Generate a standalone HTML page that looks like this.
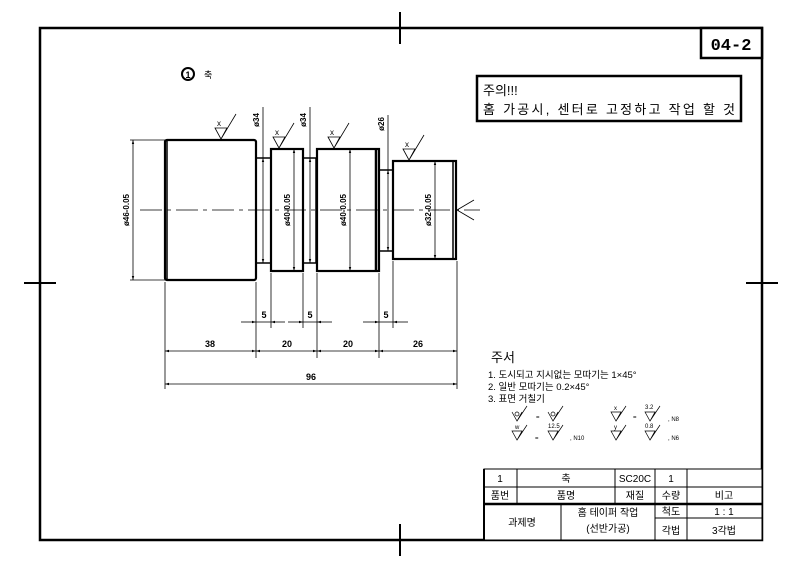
<!DOCTYPE html>
<html><head><meta charset="utf-8"><style>
body{margin:0;background:#fff}
svg text{font-family:"Liberation Sans","Noto Sans CJK KR",sans-serif;fill:#000}
</style></head><body>
<svg width="800" height="564" viewBox="0 0 800 564" xmlns="http://www.w3.org/2000/svg">
<defs>
<marker id="a" viewBox="0 0 10 10" refX="10" refY="5" markerWidth="7" markerHeight="5" orient="auto-start-reverse"><path d="M0,2 L10,5 L0,8z" fill="#000"/></marker>
</defs>
<rect x="0" y="0" width="800" height="564" fill="#fff"/>
<rect x="40" y="28" width="722" height="512" fill="none" stroke="#000" stroke-width="2.5"/>
<g stroke="#000" stroke-width="2">
<line x1="400" y1="12" x2="400" y2="44"/><line x1="400" y1="524" x2="400" y2="556"/>
<line x1="24" y1="283" x2="56" y2="283"/><line x1="746" y1="283" x2="778" y2="283"/>
</g>
<rect x="701" y="28" width="61" height="30" fill="#fff" stroke="#000" stroke-width="2.5"/>
<text x="731" y="50" font-size="17" font-weight="bold" text-anchor="middle" style="font-family:'Liberation Mono',monospace">04-2</text>
<rect x="477" y="76" width="264" height="45" fill="#fff" stroke="#000" stroke-width="2.5"/>
<text x="483" y="95" font-size="13">주의!!!</text>
<text x="483" y="114" font-size="13" textLength="252" lengthAdjust="spacing">홈 가공시, 센터로 고정하고 작업 할 것</text>
<circle cx="188" cy="74" r="6" fill="none" stroke="#000" stroke-width="2"/>
<text x="188" y="78" font-size="9" font-weight="bold" text-anchor="middle">1</text>
<text x="204" y="78" font-size="9">축</text>
<g fill="#fff" stroke="#000" stroke-width="2.2">
<rect x="256" y="158" width="15" height="105" stroke-width="1.5"/>
<rect x="303" y="158" width="13" height="105" stroke-width="1.5"/>
<rect x="379" y="170" width="14" height="81" stroke-width="1.5"/>
<rect x="165" y="140" width="91" height="140" rx="2"/>
<rect x="271" y="149" width="32" height="122"/>
<rect x="317" y="149" width="62" height="122"/>
<rect x="393" y="161" width="63" height="98"/>
</g>
<g stroke="#000" stroke-width="1.5">
<line x1="167" y1="141" x2="167" y2="279"/>
<line x1="376" y1="150" x2="376" y2="270" stroke-width="2.5"/>
<line x1="453" y1="162" x2="453" y2="258"/>
</g>
<line x1="140" y1="210" x2="480" y2="210" stroke="#000" stroke-width="0.8" stroke-dasharray="22,5,4,5"/>
<path d="M457 210 L474 200 M457 210 L474 220" stroke="#000" stroke-width="0.8" fill="none"/>
<g stroke="#000" stroke-width="0.8">
<line x1="133" y1="140" x2="133" y2="280" marker-start="url(#a)" marker-end="url(#a)"/>
<line x1="130" y1="140" x2="165" y2="140"/><line x1="130" y1="280" x2="165" y2="280"/>
<line x1="263" y1="158" x2="263" y2="263" marker-start="url(#a)" marker-end="url(#a)"/>
<line x1="263" y1="107" x2="263" y2="158"/>
<line x1="294" y1="149" x2="294" y2="271" marker-start="url(#a)" marker-end="url(#a)"/>
<line x1="310" y1="158" x2="310" y2="263" marker-start="url(#a)" marker-end="url(#a)"/>
<line x1="310" y1="107" x2="310" y2="158"/>
<line x1="350" y1="149" x2="350" y2="271" marker-start="url(#a)" marker-end="url(#a)"/>
<line x1="388" y1="170" x2="388" y2="251" marker-start="url(#a)" marker-end="url(#a)"/>
<line x1="388" y1="115" x2="388" y2="170"/>
<line x1="435" y1="161" x2="435" y2="259" marker-start="url(#a)" marker-end="url(#a)"/>
</g>
<g font-size="8" font-weight="bold">
<text transform="translate(129,210) rotate(-90)" text-anchor="middle">ø46-0.05</text>
<text transform="translate(290,210) rotate(-90)" text-anchor="middle">ø40-0.05</text>
<text transform="translate(346,210) rotate(-90)" text-anchor="middle">ø40-0.05</text>
<text transform="translate(431,210) rotate(-90)" text-anchor="middle">ø32-0.05</text>
<text transform="translate(259,120) rotate(-90)" text-anchor="middle">ø34</text>
<text transform="translate(306,120) rotate(-90)" text-anchor="middle">ø34</text>
<text transform="translate(384,124) rotate(-90)" text-anchor="middle">ø26</text>
</g>
<g stroke="#000" stroke-width="0.8" fill="none">
<path d="M215 128 L221 139 L227 128 Z M221 139 L236 114"/>
<path d="M273 137 L279 148 L285 137 Z M279 148 L294 123"/>
<path d="M328 137 L334 148 L340 137 Z M334 148 L349 123"/>
<path d="M403 149 L409 160 L415 149 Z M409 160 L424 135"/>
</g>
<g font-size="8"><text x="217" y="126">x</text><text x="275" y="135">x</text><text x="330" y="135">x</text><text x="405" y="147">x</text></g>
<g stroke="#000" stroke-width="0.8">
<line x1="165" y1="282" x2="165" y2="389"/>
<line x1="256" y1="282" x2="256" y2="358"/>
<line x1="271" y1="273" x2="271" y2="328"/>
<line x1="303" y1="273" x2="303" y2="328"/>
<line x1="317" y1="273" x2="317" y2="358"/>
<line x1="379" y1="273" x2="379" y2="358"/>
<line x1="393" y1="261" x2="393" y2="328"/>
<line x1="457" y1="261" x2="457" y2="389"/>
<line x1="241" y1="322" x2="256" y2="322" marker-end="url(#a)"/><line x1="271" y1="322" x2="285" y2="322" marker-start="url(#a)"/>
<line x1="256" y1="322" x2="271" y2="322"/>
<line x1="288" y1="322" x2="303" y2="322" marker-end="url(#a)"/><line x1="317" y1="322" x2="332" y2="322" marker-start="url(#a)"/>
<line x1="303" y1="322" x2="317" y2="322"/>
<line x1="363" y1="322" x2="379" y2="322" marker-end="url(#a)"/><line x1="393" y1="322" x2="408" y2="322" marker-start="url(#a)"/>
<line x1="379" y1="322" x2="393" y2="322"/>
<line x1="165" y1="351" x2="256" y2="351" marker-start="url(#a)" marker-end="url(#a)"/>
<line x1="256" y1="351" x2="317" y2="351" marker-start="url(#a)" marker-end="url(#a)"/>
<line x1="317" y1="351" x2="379" y2="351" marker-start="url(#a)" marker-end="url(#a)"/>
<line x1="379" y1="351" x2="457" y2="351" marker-start="url(#a)" marker-end="url(#a)"/>
<line x1="165" y1="384" x2="457" y2="384" marker-start="url(#a)" marker-end="url(#a)"/>
</g>
<g font-size="9" font-weight="bold" text-anchor="middle">
<text x="264" y="318">5</text><text x="310" y="318">5</text><text x="386" y="318">5</text>
<text x="210" y="347">38</text><text x="287" y="347">20</text><text x="348" y="347">20</text><text x="418" y="347">26</text>
<text x="311" y="380">96</text>
</g>
<text x="491" y="362" font-size="13">주서</text>
<g font-size="9.5">
<text x="488" y="378">1. 도시되고 지시없는 모따기는 1×45°</text>
<text x="488" y="390">2. 일반 모따기는 0.2×45°</text>
<text x="488" y="402">3. 표면 거칠기</text>
</g>
<g stroke="#000" stroke-width="0.7" fill="none">
<path d="M512 412 L517 421 L522 412 M517 421 L527 406"/><circle cx="517" cy="414" r="2"/>
<path d="M548 412 L553 421 L558 412 M553 421 L563 406"/><circle cx="553" cy="414" r="2"/>
<path d="M611 412 L616 421 L621 412 Z M616 421 L626 406"/>
<path d="M645 412 L650 421 L655 412 Z M650 421 L660 406"/>
<path d="M512 431 L517 440 L522 431 Z M517 440 L527 425"/>
<path d="M548 431 L553 440 L558 431 Z M553 440 L563 425"/>
<path d="M611 431 L616 440 L621 431 Z M616 440 L626 425"/>
<path d="M645 431 L650 440 L655 431 Z M650 440 L660 425"/>
</g>
<g font-size="6">
<text x="536" y="419">=</text><text x="633" y="419">=</text><text x="668" y="421">, N8</text>
<text x="535" y="440">=</text><text x="570" y="440">, N10</text><text x="668" y="440">, N6</text>
<text x="614" y="410">x</text><text x="645" y="409">3.2</text>
<text x="515" y="429">w</text><text x="548" y="428">12.5</text>
<text x="614" y="429">y</text><text x="645" y="428">0.8</text>
</g>
<g stroke="#000" stroke-width="1" fill="none">
<rect x="484" y="469" width="278" height="71" fill="#fff"/>
<line x1="484" y1="487" x2="762" y2="487"/>
<line x1="655" y1="518" x2="762" y2="518"/>
<line x1="517" y1="469" x2="517" y2="504"/>
<line x1="615" y1="469" x2="615" y2="504"/>
<line x1="655" y1="469" x2="655" y2="540"/>
<line x1="687" y1="469" x2="687" y2="540"/>
<line x1="561" y1="504" x2="561" y2="540"/>
</g>
<line x1="484" y1="504" x2="762" y2="504" stroke="#000" stroke-width="2.5"/>
<line x1="484" y1="469" x2="484" y2="540" stroke="#000" stroke-width="2"/>
<g font-size="10" text-anchor="middle">
<text x="500" y="482">1</text><text x="566" y="482">축</text><text x="635" y="482">SC20C</text><text x="671" y="482">1</text>
<text x="500" y="499">품번</text><text x="566" y="499">품명</text><text x="635" y="499">재질</text><text x="671" y="499">수량</text><text x="724" y="499">비고</text>
<text x="522" y="526">과제명</text>
<text x="608" y="516">홈 테이퍼 작업</text><text x="608" y="532">(선반가공)</text>
<text x="671" y="515">척도</text><text x="724" y="515">1 : 1</text>
<text x="671" y="534">각법</text><text x="724" y="534">3각법</text>
</g>
</svg>
</body></html>
